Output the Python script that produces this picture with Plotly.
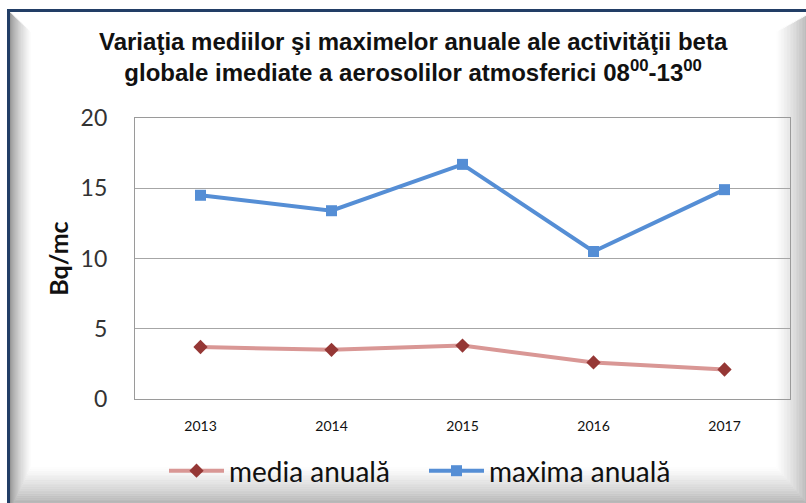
import plotly.graph_objects as go

# Data
years = ["2013", "2014", "2015", "2016", "2017"]
media_anuala = [3.7, 3.5, 3.8, 2.6, 2.1]
maxima_anuala = [14.5, 13.4, 16.7, 10.5, 14.9]
y_ticks = [0, 5, 10, 15, 20]

# Canvas geometry (pixels)
W_PX, H_PX = 806, 503
PL, PR, PT, PB = 135, 790, 118, 399  # plot area box
PW, PH = PR - PL, PB - PT


def px(x):
    return (x - PL) / PW


def py(y):
    return (PB - y) / PH


def gray(v):
    v = int(round(max(0, min(255, v))))
    return f"rgb({v},{v},{v})"


shapes = []

# Bevelled frame: concentric rings from outer edge to inner face, shaded per side
outer = (10, 12, 812, 510)
inner = (31, 32, 776, 467)
N = 24
edge = {"left": 130, "top": 255, "right": 150, "bottom": 140}


def lerp_rect(t):
    return tuple(o + (i - o) * t for o, i in zip(outer, inner))


def shade(side, t):
    e = edge[side]
    return gray(e + (255 - e) * (t ** 0.6))


for k in range(N):
    t0, t1 = k / N, (k + 1) / N
    a = lerp_rect(t0)
    b = lerp_rect(t1)
    tm = (t0 + t1) / 2
    polys = {
        "left": [(a[0], a[1]), (b[0], b[1]), (b[0], b[3]), (a[0], a[3])],
        "right": [(a[2], a[1]), (b[2], b[1]), (b[2], b[3]), (a[2], a[3])],
        "top": [(a[0], a[1]), (a[2], a[1]), (b[2], b[1]), (b[0], b[1])],
        "bottom": [(a[0], a[3]), (a[2], a[3]), (b[2], b[3]), (b[0], b[3])],
    }
    for side, pts in polys.items():
        path = "M " + " L ".join(f"{px(x):.5f},{py(y):.5f}" for x, y in pts) + " Z"
        c = shade(side, tm)
        shapes.append(dict(type="path", path=path, xref="paper", yref="paper",
                           fillcolor=c, line=dict(width=0.6, color=c), layer="below"))

# Inner white face
shapes.append(dict(type="rect", xref="paper", yref="paper",
                   x0=px(inner[0]), x1=px(inner[2]), y0=py(inner[3]), y1=py(inner[1]),
                   fillcolor="white", line=dict(width=0), layer="below"))

# Navy outer border
shapes.append(dict(type="rect", xref="paper", yref="paper",
                   x0=px(8.5), x1=px(830), y0=py(530), y1=py(10.5),
                   fillcolor="rgba(0,0,0,0)", line=dict(width=3, color="#223E66"),
                   layer="above"))

fig = go.Figure()

fig.add_trace(go.Scatter(
    x=years, y=media_anuala, name="media anuală", mode="lines+markers",
    line=dict(color="#D99795", width=4),
    marker=dict(symbol="diamond", size=11, color="#953735"),
))
fig.add_trace(go.Scatter(
    x=years, y=maxima_anuala, name="maxima anuală", mode="lines+markers",
    line=dict(color="#558ED5", width=4),
    marker=dict(symbol="square", size=11, color="#558ED5"),
))

title_text = ("<b>Variaţia mediilor şi maximelor anuale ale activităţii beta<br>"
              "globale imediate a aerosolilor atmosferici 08<sup>00</sup>-13<sup>00</sup></b>")

fig.update_layout(
    width=W_PX, height=H_PX,
    margin=dict(l=PL, r=W_PX - PR, t=PT, b=H_PX - PB, pad=0, autoexpand=False),
    paper_bgcolor="white",
    plot_bgcolor="rgba(0,0,0,0)",
    shapes=shapes,
    showlegend=True,
    legend=dict(orientation="h", x=px(164), xanchor="left", y=py(471), yanchor="middle",
                font=dict(family="Lato, Carlito, sans-serif", size=28, color="#111111"),
                bgcolor="rgba(0,0,0,0)", itemwidth=55, entrywidth=190,
                entrywidthmode="pixels", tracegroupgap=0),
    annotations=[dict(
        text=title_text, xref="paper", yref="paper",
        x=px(413), y=py(57), xanchor="center", yanchor="middle", showarrow=False,
        font=dict(family="Liberation Sans Narrow, Arial Narrow, Liberation Sans, sans-serif",
                  size=24, color="#111111"),
    )],
    font=dict(family="Lato, sans-serif"),
)

fig.update_xaxes(
    type="category", range=[-0.5, 4.5],
    showgrid=False, showline=True, linecolor="#9A9A9A", linewidth=1.2, mirror=True,
    ticks="outside", ticklen=14, tickcolor="rgba(0,0,0,0)",
    tickfont=dict(family="Lato, sans-serif", size=14, color="#111111"),
    fixedrange=True,
)
fig.update_yaxes(
    range=[0, 20], tickvals=y_ticks,
    showgrid=True, gridcolor="#A6A6A6", gridwidth=1.2,
    showline=True, linecolor="#9A9A9A", linewidth=1.2, mirror=True,
    zeroline=False,
    ticks="outside", ticklen=22, tickcolor="rgba(0,0,0,0)",
    tickfont=dict(family="Lato, sans-serif", size=23, color="#333333"),
    title=dict(text="<b>Bq/mc</b>", standoff=4,
               font=dict(family="Lato, sans-serif", size=25, color="#111111")),
    fixedrange=True,
)

fig.write_html("out.html")
